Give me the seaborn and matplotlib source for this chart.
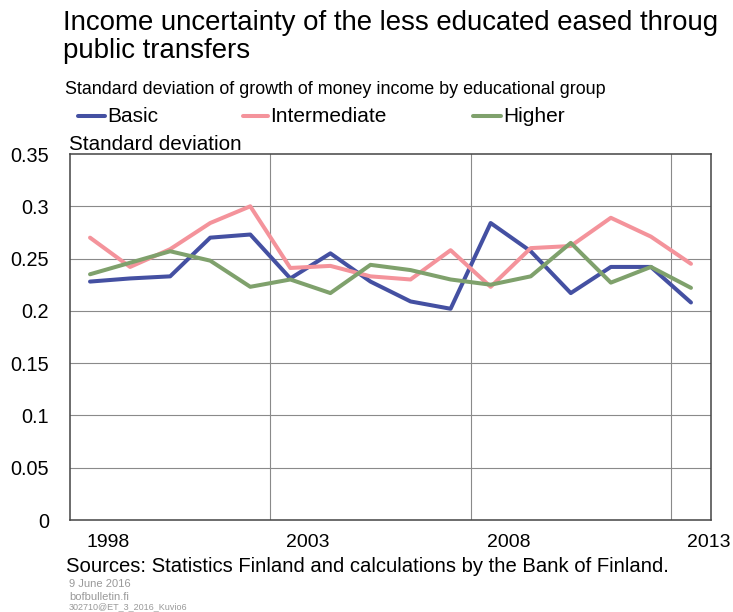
import matplotlib
matplotlib.use("Agg")
import matplotlib.pyplot as plt
import matplotlib.transforms as mtransforms
import seaborn as sns
import pandas as pd
import numpy as np

years = list(range(1998, 2014))
basic = [0.228, 0.231, 0.233, 0.270, 0.273, 0.231, 0.255, 0.228, 0.209, 0.202,
         0.284, 0.257, 0.217, 0.242, 0.242, 0.208]
intermediate = [0.270, 0.242, 0.259, 0.284, 0.300, 0.241, 0.243, 0.233, 0.230, 0.258,
                0.223, 0.260, 0.262, 0.289, 0.271, 0.245]
higher = [0.235, 0.246, 0.257, 0.248, 0.223, 0.230, 0.217, 0.244, 0.239, 0.230,
          0.225, 0.233, 0.265, 0.227, 0.242, 0.222]
series_names = ["Basic", "Intermediate", "Higher"]
colors = ["#4450A2", "#F4939B", "#7FA16C"]
xtick_years = ["1998", "2003", "2008", "2013"]
yticks = [0, 0.05, 0.1, 0.15, 0.2, 0.25, 0.3, 0.35]

sns.set_style("white")
plt.rcParams["font.family"] = ["Liberation Sans", "DejaVu Sans"]
plt.rcParams["text.color"] = "black"
plt.rcParams["xtick.color"] = "black"
plt.rcParams["ytick.color"] = "black"
plt.rcParams["xtick.labelcolor"] = "black"
plt.rcParams["ytick.labelcolor"] = "black"

pos = np.arange(len(years))
df = pd.concat([
    pd.DataFrame({"pos": pos, "value": vals, "group": name})
    for name, vals in zip(series_names, [basic, intermediate, higher])
])

fig = plt.figure(figsize=(7.33, 6.12), dpi=100)
W, H = 733, 612
ax = fig.add_axes([70 / W, 1 - 520 / H, (711 - 70) / W, (520 - 154) / H])

sns.lineplot(data=df, x="pos", y="value", hue="group", hue_order=series_names,
             palette=colors, linewidth=2.9, ax=ax, legend=False, zorder=3)

ax.set_xlim(-0.5, len(years) - 0.5)
ax.set_ylim(0, 0.35)
ax.set_yticks(yticks)
ax.set_yticklabels(["0", "0.05", "0.1", "0.15", "0.2", "0.25", "0.3", "0.35"])
ax.set_xlabel("")
ax.set_ylabel("")

for yv in yticks[1:-1]:
    ax.axhline(yv, color="#8a8a8a", lw=0.8, zorder=1)
for xv in [4.5, 9.5, 14.5]:
    ax.axvline(xv, color="#8a8a8a", lw=0.8, zorder=1)

major_pos = [years.index(int(y)) for y in xtick_years]
ax.set_xticks(major_pos)
ax.set_xticklabels(xtick_years)
ax.set_xticks([i + 0.5 for i in range(len(years) - 1)], minor=True)
ax.tick_params(axis="x", which="major", length=0, pad=10, labelsize=14)
ax.tick_params(axis="x", which="minor", direction="in", length=3.5, width=0.8, color="#777777")
ax.tick_params(axis="y", which="major", length=0, pad=15, labelsize=14.3)
offset = mtransforms.ScaledTranslation(-4 / 100, 0, fig.dpi_scale_trans)
for lab in ax.get_xticklabels():
    lab.set_horizontalalignment("left")
    lab.set_transform(lab.get_transform() + offset)

for s in ax.spines.values():
    s.set_color("#444444")
    s.set_linewidth(1.1)

narrow = ["Liberation Sans Narrow", "Liberation Sans"]
fig.text(63 / W, 1 - 23 / H, "Income uncertainty of the less educated eased throug",
         fontsize=19.9, family=narrow, va="center", ha="left")
fig.text(63 / W, 1 - 51 / H, "public transfers",
         fontsize=19.9, family=narrow, va="center", ha="left")
fig.text(65 / W, 1 - 89 / H, "Standard deviation of growth of money income by educational group",
         fontsize=12.9, family=narrow, va="center", ha="left")

leg_items = [(78, 107), (243, 270), (473, 503)]
for (lx, tx), name, c in zip(leg_items, series_names, colors):
    fig.add_artist(plt.Line2D([lx / W, (tx - 2) / W], [1 - 116 / H, 1 - 116 / H],
                              color=c, lw=2.9, transform=fig.transFigure))
    fig.text(tx / W, 1 - 116 / H, name, fontsize=15, va="center", ha="left")

fig.text(69 / W, 1 - 145 / H, "Standard deviation", fontsize=14.9, va="center", ha="left")
fig.text(66 / W, 1 - 566 / H, "Sources: Statistics Finland and calculations by the Bank of Finland.",
         fontsize=14.6, va="center", ha="left")
for yy, t, fs in [(584, "9 June 2016", 8), (597, "bofbulletin.fi", 8),
                  (607, "302710@ET_3_2016_Kuvio6", 6.5)]:
    fig.text(69 / W, 1 - yy / H, t, fontsize=fs, color="#999999", va="center", ha="left")

fig.savefig("out.png", dpi=100, facecolor="white")
